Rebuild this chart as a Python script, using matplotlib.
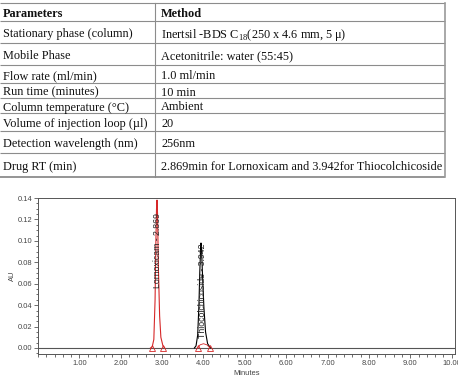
import numpy as np
import matplotlib
matplotlib.use('Agg')
import matplotlib.pyplot as plt
from matplotlib.ticker import MultipleLocator, FormatStrFormatter

plt.rcParams['mathtext.fontset'] = 'custom'
plt.rcParams['mathtext.rm'] = 'Liberation Serif'

# --- table data ---
header = ['Parameters', 'Method']
params = ['Stationary phase (column)', 'Mobile Phase', 'Flow rate (ml/min)',
          'Run time (minutes)', 'Column temperature (°C)',
          'Volume of injection loop (µl)', 'Detection wavelength (nm)',
          'Drug RT (min)']
methods = ['Inertsil -BDS C$_{\\mathrm{18}}$(250 x 4.6 mm, 5 μ)',
           'Acetonitrile: water (55:45)', '1.0 ml/min', '10 min', 'Ambient',
           '20', '256nm',
           '2.869min for Lornoxicam and 3.942for Thiocolchicoside']

# --- chromatogram data ---
lorn_t = [2.72, 2.76, 2.80, 2.83, 2.85, 2.865, 2.877, 2.89, 2.91, 2.94, 2.97, 3.02, 3.06]
lorn_au = [0.000, 0.001, 0.008, 0.045, 0.100, 0.130, 0.138, 0.125, 0.075, 0.030, 0.010, 0.002, 0.000]
thio_t = [3.78, 3.82, 3.86, 3.89, 3.91, 3.93, 3.94, 3.955, 3.98, 4.01, 4.05, 4.10, 4.17]
thio_au = [0.000, 0.002, 0.012, 0.040, 0.070, 0.092, 0.098, 0.090, 0.065, 0.038, 0.015, 0.004, 0.000]
thio_base_t = [3.86, 3.92, 4.00, 4.08, 4.16]
thio_base_au = [0.000, 0.003, 0.004, 0.003, 0.000]
mark_t = [2.755, 3.02, 3.86, 4.16]
peak_names = ['Lornoxicam - 2.869', 'Thiocolchicoside - 3.942']
label_t = [2.877, 3.965]
label_au = [0.056, 0.009]

W, H = 458, 379
fig = plt.figure(figsize=(W / 100, H / 100), dpi=100)

# table drawn in pixel coordinates
tab = fig.add_axes([0, 0, 1, 1])
tab.set_xlim(0, W)
tab.set_ylim(H, 0)
tab.axis('off')

row_lines = [3, 21, 43, 65, 83, 98, 113, 131, 153, 177]
col_div = 155
right_x = 445
serif = 'Liberation Serif'
fs = 8.8

for i, y in enumerate(row_lines):
    lw = 1.3 if i == len(row_lines) - 1 else 0.8
    tab.plot([0, right_x], [y, y], color='#8c8c8c', lw=lw, solid_capstyle='butt')
tab.plot([col_div, col_div], [row_lines[0], row_lines[-1]], color='#8c8c8c', lw=0.8)
tab.plot([right_x, right_x], [row_lines[0], row_lines[-1]], color='#9a9a9a', lw=1.2)

rows = [header] + list(zip(params, methods))
for i, (p, m) in enumerate(rows):
    yc = (row_lines[i] + row_lines[i + 1]) / 2 + 0.5
    weight = 'bold' if i == 0 else 'normal'
    tab.text(3, yc, p, family=serif, fontsize=fs, weight=weight, va='center_baseline', ha='left', color='#111')
    tab.text(161, yc, m, family=serif, fontsize=fs, weight=weight, va='center_baseline', ha='left', color='#111')

# chromatogram
left, right, top, bottom = 38, 455, 198, 354
ax = fig.add_axes([left / W, (H - bottom) / H, (right - left) / W, (bottom - top) / H])
ax.set_xlim(0, 10.08)
ax.set_ylim(-0.0056, 0.14)

ax.axhline(0, color='#555555', lw=0.8)
ax.plot(lorn_t, lorn_au, color='#d62728', lw=0.8)
ax.plot(thio_t, thio_au, color='black', lw=0.8)
ax.plot(thio_base_t, thio_base_au, color='#d62728', lw=0.6)
ax.plot(mark_t, [0] * len(mark_t), linestyle='none', marker='^', ms=4,
        mfc='none', mec='#d62728', mew=0.6)

for name, t, a in zip(peak_names, label_t, label_au):
    ax.text(t, a, name, rotation=90, ha='center', va='bottom', fontsize=6.3,
            family='Liberation Sans', color='#222')

ax.set_xticks(np.arange(1, 11))
ax.xaxis.set_major_formatter(FormatStrFormatter('%.2f'))
ax.xaxis.set_minor_locator(MultipleLocator(0.2))
ax.yaxis.set_major_locator(MultipleLocator(0.02))
ax.yaxis.set_major_formatter(FormatStrFormatter('%.2f'))
ax.yaxis.set_minor_locator(MultipleLocator(0.005))
ax.tick_params(which='both', direction='out', color='#555', labelsize=5.4,
               labelcolor='#444', width=0.6, pad=1.2)
ax.tick_params(which='major', length=3)
ax.tick_params(which='minor', length=1.8)
for lab in ax.get_xticklabels() + ax.get_yticklabels():
    lab.set_family('Liberation Sans')
for s in ax.spines.values():
    s.set_color('#555')
    s.set_linewidth(0.7)

ax.set_xlabel('Minutes', family='Liberation Sans', fontsize=5.4, color='#444', labelpad=2.5)
ax.set_ylabel('AU', family='Liberation Sans', fontsize=5.4, color='#444', labelpad=1)

fig.savefig('out.png', dpi=100)
